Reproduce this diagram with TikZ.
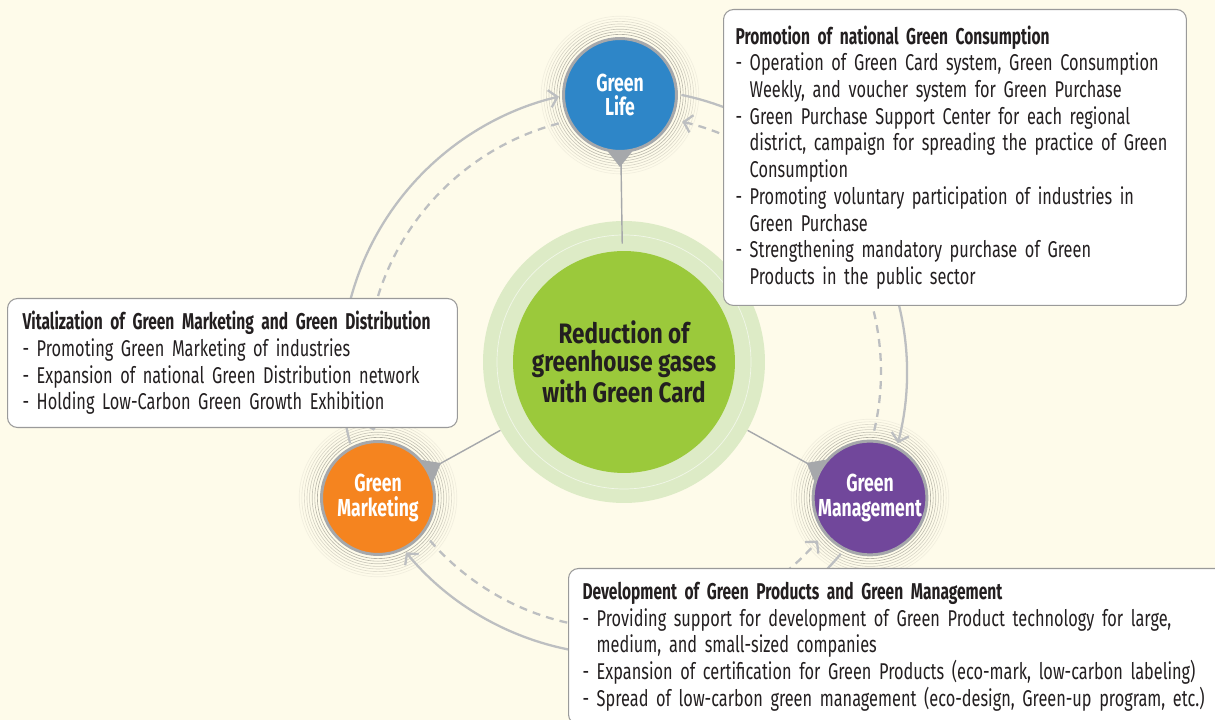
\documentclass[tikz,border=0pt]{standalone}
\usepackage{fontspec}
\setmainfont[FakeStretch=0.715]{Fira Sans}
\newfontfamily\titlefont[FakeStretch=0.68]{Fira Sans}
\newfontfamily\corefont[FakeStretch=0.8]{Fira Sans}
\usetikzlibrary{arrows.meta}
\definecolor{paper}{HTML}{FEFBEA}
\definecolor{ink}{HTML}{231F20}
\definecolor{lifeblue}{HTML}{2E86C8}
\definecolor{mktorange}{HTML}{F5841F}
\definecolor{mgmtpurple}{HTML}{71479B}
\definecolor{coregreen}{HTML}{9BC93B}
\definecolor{halogreen}{HTML}{DDEBC6}
\definecolor{ringgray}{HTML}{A6A8AB}
\definecolor{arcgray}{HTML}{BDBFC1}
\definecolor{boxgray}{HTML}{9A9A9A}
\tikzset{
  hub/.style={circle,draw=ringgray,line width=1.7pt,minimum size=2.26cm,inner sep=0pt,text=white,align=center,font=\fontsize{14}{14.2}\selectfont\bfseries},
  flow/.style={draw=arcgray,line width=1.3pt,-{Straight Barb[length=4.5pt,width=10pt]}},
  backflow/.style={flow,dash pattern=on 4.5pt off 3.5pt},
  link/.style={draw=ringgray,line width=0.8pt},
  infobox/.style={draw=boxgray,fill=white,rounded corners=0.2cm,line width=0.6pt,align=left,anchor=north west,text=ink,font=\fontsize{13}{15.2}\selectfont},
}
\newcommand{\cont}{\hphantom{- }}
\newcommand{\boxtitle}[1]{{\titlefont\bfseries #1}}
\begin{document}
\begin{tikzpicture}[x=0.02cm,y=0.02cm]
\pgfmathsetmacro{\ro}{283}
\pgfmathsetmacro{\ri}{257}
\path[use as bounding box,clip] (0,0) rectangle (1215,720);
\fill[paper] (0,0) rectangle (1215,720);
\coordinate (ac) at (624,348);
\node[circle,fill=halogreen,minimum size=5.64cm] (halo) at (624,358) {};
\draw[white,opacity=0.6,line width=0.4pt] (halo) circle[radius=127];
\node[circle,fill=coregreen,minimum size=4.44cm,align=center,text=ink,font=\fontsize{16}{16.2}\selectfont\corefont\bfseries] (core) at (624,358) {Reduction of\\greenhouse gases\\with Green Card};
\node[hub,fill=lifeblue] (life) at (620,625) {Green\\Life};
\node[hub,fill=mktorange] (mkt) at (378,222) {Green\\Marketing};
\node[hub,fill=mgmtpurple] (mgmt) at (870,222) {Green\\Management};
\foreach \h in {life,mkt,mgmt}
  \foreach \k/\c in {1/30,2/26,3/22,4/18,5/15,6/12,7/8,8/5}
    \draw[black!\c!paper,line width=0.35pt] (\h) circle[radius=58+2.6*\k];
\draw[link,shorten >=0.14cm] (life) -- (core);
\draw[link] (mkt) -- (halo);
\draw[link] (mgmt) -- (halo);
\fill[ringgray] (life.258) -- ([shift={(270:14)}]life.270) -- (life.282) -- cycle;
\fill[ringgray] (mkt.17) -- ([shift={(29:14)}]mkt.29) -- (mkt.41) -- cycle;
\fill[ringgray] (mgmt.139) -- ([shift={(151:14)}]mgmt.151) -- (mgmt.163) -- cycle;
\draw[flow] ([shift={(194.6:\ro)}]ac) arc[start angle=194.6,end angle=103.3,radius=\ro];
\draw[flow] ([shift={(78.3:\ro)}]ac) arc[start angle=78.3,end angle=-14.6,radius=\ro];
\draw[flow] ([shift={(-40:\ro)}]ac) arc[start angle=-40,end angle=-140.4,radius=\ro];
\draw[backflow] ([shift={(104.7:\ri)}]ac) arc[start angle=104.7,end angle=193.2,radius=\ri];
\draw[backflow] ([shift={(-13.2:\ri)}]ac) arc[start angle=-13.2,end angle=76.9,radius=\ri];
\draw[backflow] ([shift={(221:\ri)}]ac) arc[start angle=221,end angle=319,radius=\ri];
\node[infobox,text width=8.78cm,inner xsep=0.24cm,minimum height=5.92cm] (consbox) at (723,711) {\boxtitle{Promotion of national Green Consumption}\\
- Operation of Green Card system, Green Consumption\\
\cont Weekly, and voucher system for Green Purchase\\
- Green Purchase Support Center for each regional\\
\cont\mbox{district, campaign for spreading the practice of Green}\\
\cont Consumption\\
- Promoting voluntary participation of industries in\\
\cont Green Purchase\\
- Strengthening mandatory purchase of Green\\
\cont Products in the public sector};
\node[infobox,text width=8.4cm,inner xsep=0.3cm,minimum height=2.58cm] (mktbox) at (7,422) {\boxtitle{Vitalization of Green Marketing and Green Distribution}\\
- Promoting Green Marketing of industries\\
- Expansion of national Green Distribution network\\
- Holding Low-Carbon Green Growth Exhibition};
\node[infobox,text width=12.68cm,inner xsep=0.28cm,minimum height=3.12cm] (prodbox) at (568,152) {\boxtitle{Development of Green Products and Green Management}\\
- Providing support for development of Green Product technology for large,\\
\cont medium, and small-sized companies\\
- Expansion of certification for Green Products (eco-mark, low-carbon labeling)\\
- Spread of low-carbon green management (eco-design, Green-up program, etc.)};
\end{tikzpicture}
\end{document}
